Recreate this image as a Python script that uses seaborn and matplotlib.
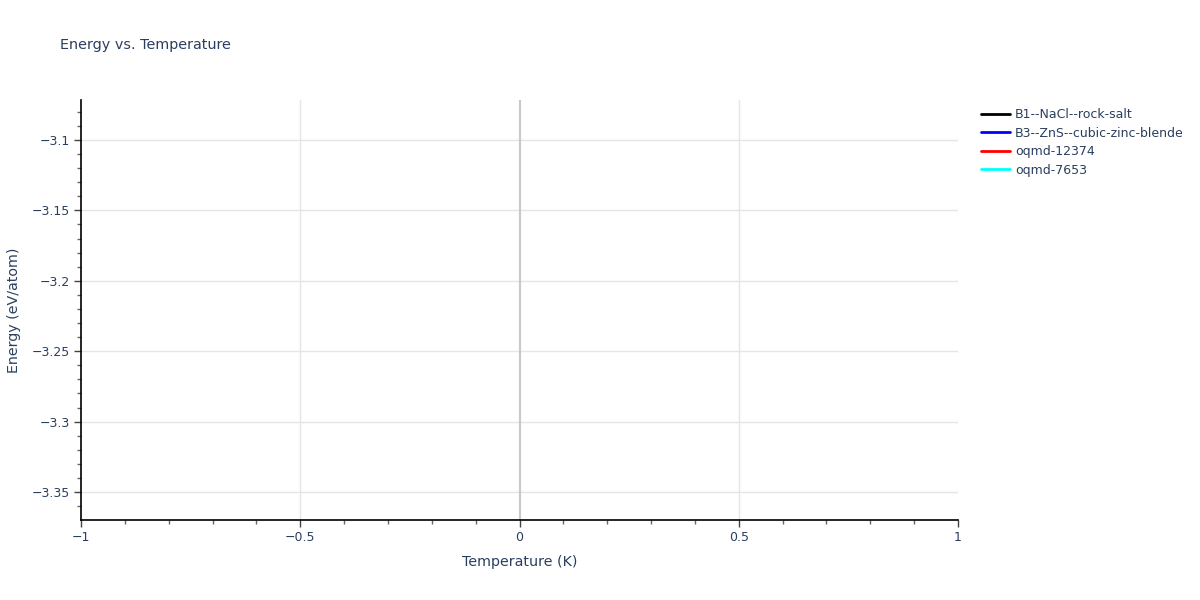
import matplotlib
matplotlib.use("Agg")
import matplotlib.pyplot as plt
import seaborn as sns
import pandas as pd
import numpy as np
from matplotlib.ticker import MultipleLocator
from matplotlib.lines import Line2D

# Data (each series is a single point at T = 0 K, so no line is drawn)
series_names = ["B1--NaCl--rock-salt", "B3--ZnS--cubic-zinc-blende", "oqmd-12374", "oqmd-7653"]
temperatures = [0.0, 0.0, 0.0, 0.0]
energies = [-3.356, -3.085, -3.30, -3.20]
colors = ["black", "blue", "red", "cyan"]

df = pd.DataFrame({"Temperature": temperatures, "Energy": energies, "Series": series_names})

sns.set_theme(style="white")
plt.rcParams["font.family"] = ["DejaVu Sans"]
text_color = "#2a3f5f"

fig = plt.figure(figsize=(12, 6), dpi=100)
ax = fig.add_axes([81/1200, 1-520/600, (958-81)/1200, 420/600])

sns.lineplot(data=df, x="Temperature", y="Energy", hue="Series",
             palette=dict(zip(series_names, colors)), ax=ax, legend=False)

ax.set_xlim(-1, 1)
ax.set_ylim(-3.3699, -3.0716)

ax.xaxis.set_major_locator(MultipleLocator(0.5))
ax.xaxis.set_minor_locator(MultipleLocator(0.1))
ax.yaxis.set_major_locator(MultipleLocator(0.05))
ax.yaxis.set_minor_locator(MultipleLocator(0.01))

def fmt(v, pos):
    s = f"{v:g}"
    return s.replace("-", "\u2212")
ax.xaxis.set_major_formatter(plt.FuncFormatter(fmt))
ax.yaxis.set_major_formatter(plt.FuncFormatter(fmt))

ax.grid(False)
for xv in [-0.5, 0.5]:
    ax.axvline(xv, color="#e5e5e5", linewidth=1, zorder=0)
for yv in [-3.1, -3.15, -3.2, -3.25, -3.3, -3.35]:
    ax.axhline(yv, color="#e5e5e5", linewidth=1, zorder=0)
ax.axvline(0, color="#c8c8c8", linewidth=1.5, zorder=1)

for side in ["top", "right"]:
    ax.spines[side].set_visible(False)
for side in ["left", "bottom"]:
    ax.spines[side].set_color("black")
    ax.spines[side].set_linewidth(1.2)

ax.tick_params(axis="both", which="major", direction="out", length=5, width=1,
               color="#444444", labelsize=9, labelcolor=text_color, pad=3,
               left=True, bottom=True)
ax.tick_params(axis="both", which="minor", direction="out", length=3, width=1,
               color="#666666", left=True, bottom=True)

ax.set_xlabel("Temperature (K)", fontsize=10.3, color=text_color, labelpad=8)
ax.set_ylabel("Energy (eV/atom)", fontsize=10.3, color=text_color, labelpad=8)

fig.text(60/1200, 1-45/600, "Energy vs. Temperature", fontsize=10.4,
         color=text_color, va="center", ha="left")

handles = [Line2D([0], [0], color=c, linewidth=2) for c in colors]
leg = fig.legend(handles, series_names, loc="upper left",
                 bbox_to_anchor=(981/1200, 1-108/600), frameon=False,
                 fontsize=9, handlelength=2.3, handletextpad=0.4,
                 labelspacing=0.45, borderaxespad=0, borderpad=0)
for t in leg.get_texts():
    t.set_color(text_color)

fig.savefig("out.png", dpi=100, facecolor="white")
